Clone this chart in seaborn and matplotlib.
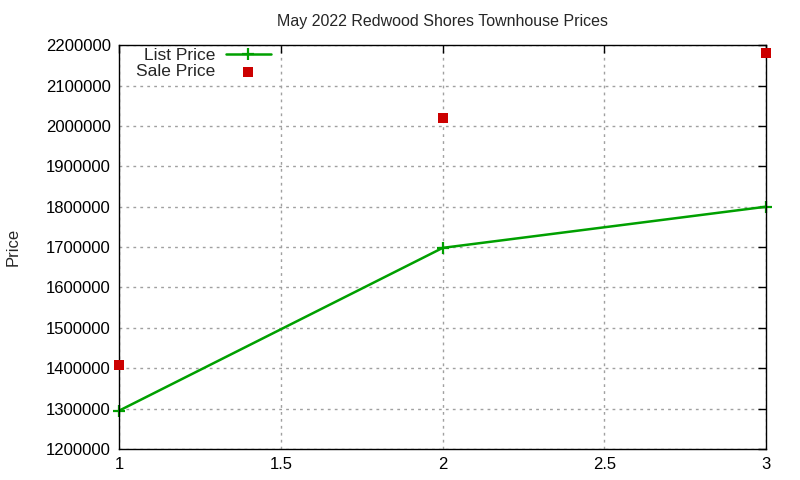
import pandas as pd
import seaborn as sns
import matplotlib.pyplot as plt
from matplotlib.ticker import MultipleLocator, FormatStrFormatter

# values
weeks = [1, 2, 3]
list_price = [1295000, 1698000, 1800000]
sale_price = [1408000, 2019000, 2180000]

df = pd.DataFrame({'x': weeks, 'list': list_price, 'sale': sale_price})

sns.set_style('white')
plt.rcParams['font.family'] = ['Liberation Sans', 'DejaVu Sans']

fig = plt.figure(figsize=(8, 4.8), dpi=100)
ax = fig.add_axes([0.149, 0.0646, 0.8088, 0.8414])

green = '#00a000'
sns.lineplot(data=df, x='x', y='list', ax=ax, color=green, linewidth=1.8,
             marker='+', markersize=9, markeredgewidth=1.6,
             markeredgecolor=green, markerfacecolor=green,
             label='List Price', clip_on=False)
sns.scatterplot(data=df, x='x', y='sale', ax=ax, color='#cc0000', marker='s',
                s=55, linewidth=0, label='Sale Price', clip_on=False, zorder=5)

ax.set_xlim(1, 3)
ax.set_ylim(1200000, 2200000)
ax.xaxis.set_major_locator(MultipleLocator(0.5))
ax.yaxis.set_major_locator(MultipleLocator(100000))
ax.xaxis.set_major_formatter(FormatStrFormatter('%g'))
ax.yaxis.set_major_formatter(FormatStrFormatter('%d'))
ax.tick_params(direction='in', length=6, width=1, top=True, right=True,
               labelsize=12, colors='black', pad=6)
ax.grid(True, color='#a0a0a0', linestyle=(0, (2, 3)), linewidth=1)
for s in ax.spines.values():
    s.set_color('black')
    s.set_linewidth(1.0)

ax.set_xlabel('')
ax.set_ylabel('Price', fontsize=12, labelpad=18)
ax.set_title('May 2022 Redwood Shores Townhouse Prices', fontsize=11.5, pad=14)

leg = ax.legend(loc='upper left', bbox_to_anchor=(0.01, 1.018), frameon=False,
                fontsize=12.5, markerfirst=False, handlelength=2.6,
                labelspacing=0.05, borderaxespad=0.2, handletextpad=0.6)
for t in leg.get_texts():
    t.set_ha('right')
leg._legend_box.align = 'right'

fig.savefig('out.png', dpi=100)
